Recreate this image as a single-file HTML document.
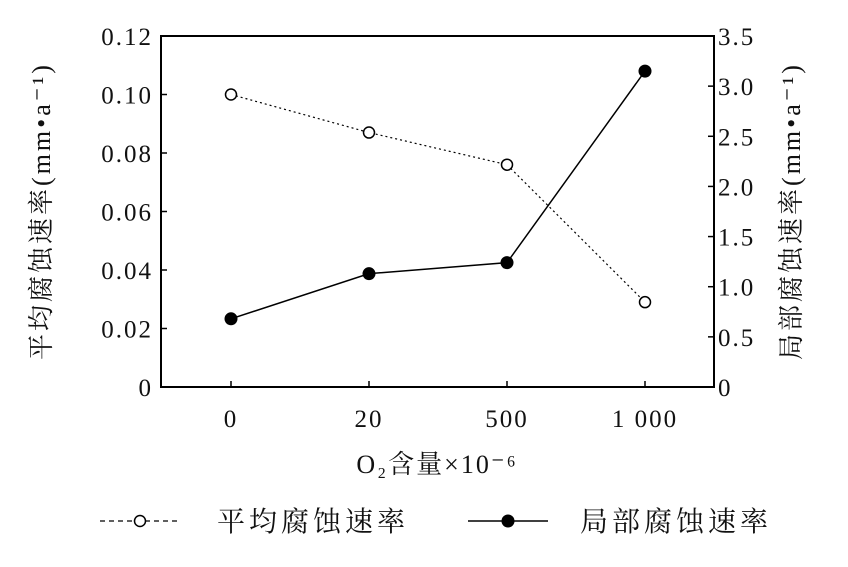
<!DOCTYPE html>
<html><head><meta charset="utf-8"><style>
html,body{margin:0;padding:0;background:#fff;}
svg text{font-family:"Liberation Serif","Noto Serif CJK SC",serif;fill:#111;}
</style></head><body>
<svg width="848" height="562" viewBox="0 0 848 562">
<g id="g"></g>
</svg>
<script>
const categories=["0","20","500","1 000"];
const avgRate=[0.100,0.087,0.076,0.029];
const localRate=[0.68,1.13,1.24,3.15];
const leftTicks=["0","0.02","0.04","0.06","0.08","0.10","0.12"];
const leftVals=[0,0.02,0.04,0.06,0.08,0.10,0.12];
const rightTicks=["0","0.5","1.0","1.5","2.0","2.5","3.0","3.5"];
const rightVals=[0,0.5,1,1.5,2,2.5,3,3.5];
const L=161,R=714,T=36,B=387;
const xc=i=>231+i*138;
const yl=v=>B-(v/0.12)*(B-T);
const yr=v=>B-(v/3.5)*(B-T);
const NS="http://www.w3.org/2000/svg";
const g=document.getElementById('g');
function el(t,a,p){const e=document.createElementNS(NS,t);for(const k in a)e.setAttribute(k,a[k]);(p||g).appendChild(e);return e;}
const frame=el('rect',{x:L,y:T,width:R-L,height:B-T,fill:'none',stroke:'#000','stroke-width':2});


leftVals.forEach((v,i)=>{
 const y=yl(v);
 if(i>0&&i<leftVals.length-1){const tk=el('line',{x1:L,y1:y,x2:L+6,y2:y,stroke:'#000','stroke-width':1.5});
 
 }
 const t=el('text',{x:L-8,y:y+9,'text-anchor':'end','font-size':25,'letter-spacing':2});t.textContent=leftTicks[i];
 
 
});
rightVals.forEach((v,i)=>{
 const y=yr(v);
 if(i>0&&i<rightVals.length-1){const tk=el('line',{x1:R-6,y1:y,x2:R,y2:y,stroke:'#000','stroke-width':1.5});
 
 }
 const t=el('text',{x:R+4,y:y+9,'text-anchor':'start','font-size':25,'letter-spacing':2});t.textContent=rightTicks[i];
 
 
});
categories.forEach((c,i)=>{
 const x=xc(i);
 const tk=el('line',{x1:x,y1:B,x2:x,y2:B-6,stroke:'#000','stroke-width':1.5});
 
 
 const t=el('text',{x:x,y:B+40,'text-anchor':'middle','font-size':25,'letter-spacing':2});t.textContent=c;
 
 
});
const avgLine=el('polyline',{points:avgRate.map((v,i)=>xc(i)+','+yl(v)).join(' '),fill:'none',stroke:'#000','stroke-width':1.2,'stroke-dasharray':'2,3'});


const locLine=el('polyline',{points:localRate.map((v,i)=>xc(i)+','+yr(v)).join(' '),fill:'none',stroke:'#000','stroke-width':1.5});


avgRate.forEach((v,i)=>{const c=el('circle',{cx:xc(i),cy:yl(v),r:5.5,fill:'#fff',stroke:'#000','stroke-width':1.5});
 
 });
localRate.forEach((v,i)=>{const c=el('circle',{cx:xc(i),cy:yr(v),r:6.5,fill:'#000'});
 
 });
const xt=el('text',{x:437,y:473,'text-anchor':'middle','font-size':26,'letter-spacing':2});xt.textContent='O₂含量×10⁻⁶';


const ylt=el('text',{x:0,y:0,'text-anchor':'middle','font-size':26,'letter-spacing':3,transform:'translate(50,211) rotate(-90)'});ylt.textContent='平均腐蚀速率(mm•a⁻¹)';


const yrt=el('text',{x:0,y:0,'text-anchor':'middle','font-size':26,'letter-spacing':3,transform:'translate(800,211) rotate(-90)'});yrt.textContent='局部腐蚀速率(mm•a⁻¹)';


const l1=el('line',{x1:100,y1:521,x2:180,y2:521,stroke:'#000','stroke-width':1.2,'stroke-dasharray':'5,4'});


const lc1=el('circle',{cx:140,cy:521,r:5.5,fill:'#fff',stroke:'#000','stroke-width':1.5});


const lt1=el('text',{x:217,y:531,'font-size':28,'letter-spacing':4});lt1.textContent='平均腐蚀速率';


const l2=el('line',{x1:468,y1:521,x2:548,y2:521,stroke:'#000','stroke-width':1.5});


const lc2=el('circle',{cx:508,cy:521,r:6.5,fill:'#000'});


const lt2=el('text',{x:580,y:531,'font-size':28,'letter-spacing':4});lt2.textContent='局部腐蚀速率';


</script>
</body></html>
